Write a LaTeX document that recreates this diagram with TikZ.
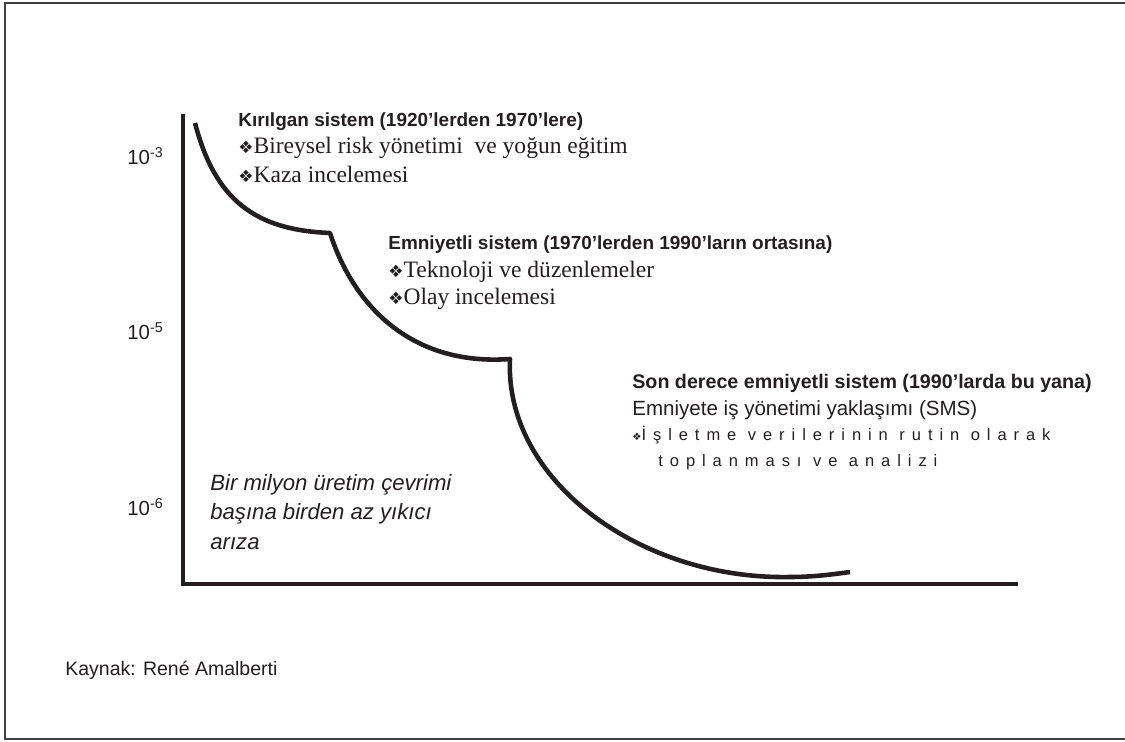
\documentclass[tikz,border=0pt]{standalone}
\usepackage{fontspec}
\setmainfont{Liberation Serif}
\setsansfont{Liberation Sans}
\newfontfamily\spacedfont[LetterSpace=42]{Liberation Sans}
\newfontfamily\symfont{DejaVu Sans}
\newcommand{\bul}{{\symfont\scalebox{0.72}{❖}}}
\newcommand{\sbul}{{\symfont\scalebox{0.62}{❖}}}
\definecolor{ink}{RGB}{35,31,32}
\begin{document}
\begin{tikzpicture}[x=0.02cm,y=-0.02cm,
  txt/.style={inner sep=0pt,anchor=base west,text=ink},
  head/.style={txt,font=\sffamily\bfseries\fontsize{10.8pt}{13pt}\selectfont},
  item/.style={txt,font=\rmfamily\fontsize{13.4pt}{16pt}\selectfont},
  axislabel/.style={txt,font=\sffamily\fontsize{11.6pt}{14pt}\selectfont},
  note/.style={txt,font=\sffamily\itshape\fontsize{12.6pt}{15pt}\selectfont},
  axisline/.style={draw=ink,line width=2.3pt},
  curve/.style={draw=ink,line width=2.6pt,line join=round}]
\useasboundingbox (0,0) rectangle (1125,742);
% outer frame
\draw[line width=0.8pt,draw=black!75] (1130,3) -- (5,3) -- (5,739) -- (1130,739);

% axes
\coordinate (top) at (183,114);
\coordinate (origin) at (183,584);
\coordinate (xend) at (1018,584);
\draw[axisline] (top) -- (origin) -- (xend);

% scale labels
\node[axislabel] (l3) at (127,165) {10\textsuperscript{-3}};
\node[axislabel] (l5) at (127,340) {10\textsuperscript{-5}};
\node[axislabel] (l6) at (127,516) {10\textsuperscript{-6}};

% stepped safety curve
\draw[curve] (195,123) .. controls (215,200) and (255,230) .. (330,233)
  .. controls (355,310) and (415,366) .. (510,359)
  .. controls (504,480) and (640,580) .. (790,577)
  .. controls (815,577) and (835,574) .. (850,572);

% eras
\node[head] (h1) at (238,127) {Kırılgan sistem (1920’lerden 1970’lere)};
\node[item] (h1a) at (238,154) {\bul Bireysel risk yönetimi \ ve yoğun eğitim};
\node[item] (h1b) at (238,183) {\bul Kaza incelemesi};

\node[head] (h2) at (388,250) {Emniyetli sistem (1970’lerden 1990’ların ortasına)};
\node[item] (h2a) at (388,278) {\bul Teknoloji ve düzenlemeler};
\node[item] (h2b) at (388,305) {\bul Olay incelemesi};

\node[head,font=\sffamily\bfseries\fontsize{11.2pt}{13pt}\selectfont] (h3) at (632,389) {Son derece emniyetli sistem (1990’larda bu yana)};
\node[txt,font=\sffamily\fontsize{11.7pt}{14pt}\selectfont] (h3a) at (632,416) {Emniyete iş yönetimi yaklaşımı (SMS)};
\node[txt,font=\spacedfont\fontsize{9.4pt}{11pt}\selectfont] (h3b) at (632,441) {\sbul İşletme verilerinin rutin olarak};
\node[txt,font=\spacedfont\fontsize{9.4pt}{11pt}\selectfont] (h3c) at (658,467) {toplanması ve analizi};

% target note
\node[note] (n1) at (210,491) {Bir milyon üretim çevrimi};
\node[note] (n2) at (210,520) {başına birden az yıkıcı};
\node[note] (n3) at (210,549) {arıza};

% source
\node[txt,font=\sffamily\fontsize{11.1pt}{13pt}\selectfont] (src) at (65,675) {Kaynak: René Amalberti};
\end{tikzpicture}
\end{document}
